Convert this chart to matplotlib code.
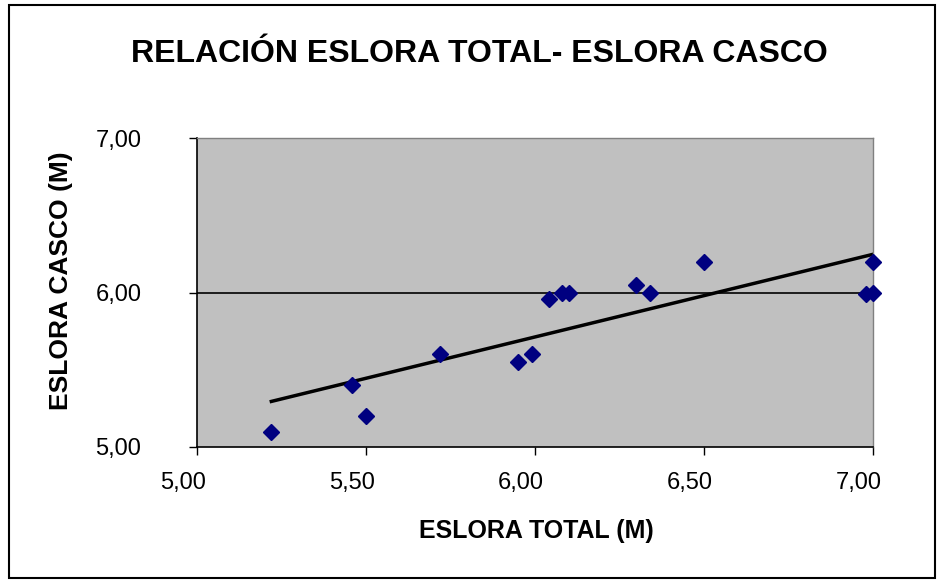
import numpy as np
import matplotlib.pyplot as plt
import matplotlib.transforms as mtransforms
from matplotlib.ticker import FuncFormatter, FixedLocator
from matplotlib.patches import Rectangle

# Eslora total y eslora casco de cada embarcación (m)
eslora_total = [5.22, 5.46, 5.50, 5.72, 5.95, 5.99, 6.04, 6.08, 6.10,
                6.30, 6.34, 6.50, 6.98, 7.00, 7.00]
eslora_casco = [5.10, 5.40, 5.20, 5.60, 5.55, 5.60, 5.96, 6.00, 6.00,
                6.05, 6.00, 6.20, 5.99, 6.00, 6.20]

x = np.array(eslora_total)
y = np.array(eslora_casco)

# Línea de tendencia lineal
m, b = np.polyfit(x, y, 1)
xt = np.array([x.min(), x.max()])

plt.rcParams['font.family'] = ['Liberation Sans', 'DejaVu Sans']

fig = plt.figure(figsize=(9.38, 5.8), dpi=100)
ax = fig.add_axes([197 / 938, 1 - 447 / 580, 676 / 938, 309 / 580])

# marco exterior del gráfico
fig.patches.append(Rectangle((9 / 938, 2 / 580), 926 / 938, 573 / 580,
                             transform=fig.transFigure, fill=False,
                             edgecolor='black', linewidth=1.5))

ax.set_facecolor('#C0C0C0')
ax.axhline(6.0, color='black', linewidth=1.2, zorder=1)
ax.plot(xt, m * xt + b, color='black', linewidth=2.5, zorder=2)
ax.plot(x, y, linestyle='none', marker='D', markersize=8.5,
        color='#000080', zorder=3, clip_on=False)

ax.set_xlim(5, 7)
ax.set_ylim(5, 7)
ax.xaxis.set_major_locator(FixedLocator([5, 5.5, 6, 6.5, 7]))
ax.yaxis.set_major_locator(FixedLocator([5, 6, 7]))
coma = FuncFormatter(lambda v, p: f"{v:.2f}".replace('.', ','))
ax.xaxis.set_major_formatter(coma)
ax.yaxis.set_major_formatter(coma)
ax.tick_params(direction='out', length=6, width=1, labelsize=17,
               colors='black')
ax.tick_params(axis='x', pad=12)
ax.tick_params(axis='y', pad=34)

# etiquetas del eje x algo desplazadas a la izquierda
desplazar = mtransforms.ScaledTranslation(-10 / 72, 0, fig.dpi_scale_trans)
for etiqueta in ax.get_xticklabels():
    etiqueta.set_transform(etiqueta.get_transform() + desplazar)

for lado in ['top', 'right']:
    ax.spines[lado].set_color('#808080')
    ax.spines[lado].set_linewidth(1)
for lado in ['left', 'bottom']:
    ax.spines[lado].set_color('black')
    ax.spines[lado].set_linewidth(1.2)

fig.text(479 / 938, 1 - 54 / 580, 'RELACIÓN ESLORA TOTAL- ESLORA CASCO',
         ha='center', va='center', fontsize=23, fontweight='bold')
fig.text(536 / 938, 1 - 531 / 580, 'ESLORA TOTAL (M)',
         ha='center', va='center', fontsize=18, fontweight='bold')
fig.text(61 / 938, 1 - 281 / 580, 'ESLORA CASCO (M)', rotation=90,
         ha='center', va='center', fontsize=19, fontweight='bold')

fig.savefig('out.png', dpi=100)
